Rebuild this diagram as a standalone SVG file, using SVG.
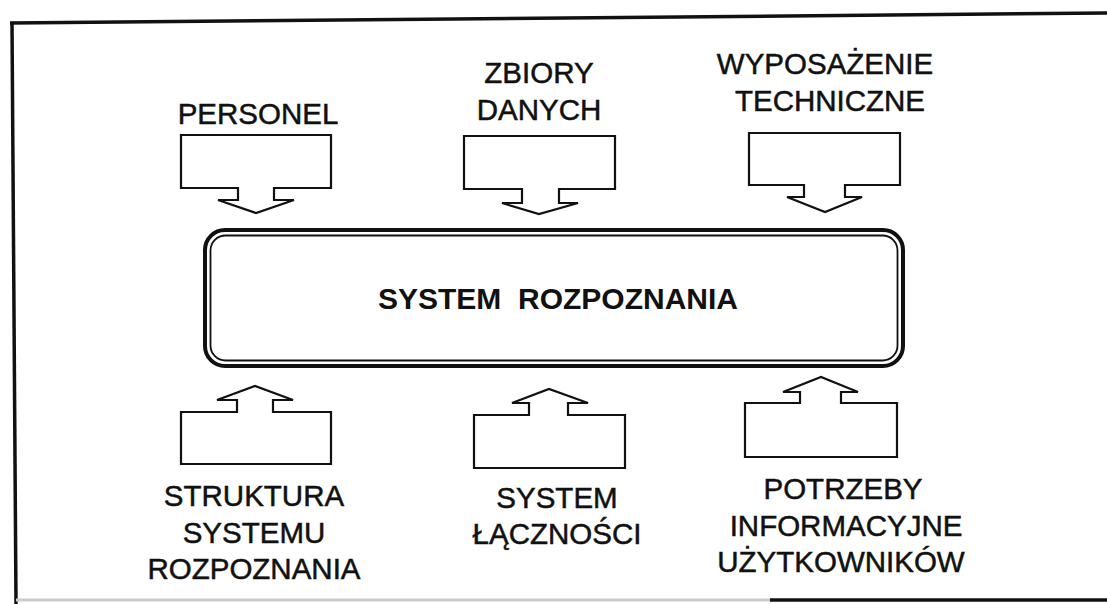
<svg xmlns="http://www.w3.org/2000/svg" width="1107" height="604" viewBox="0 0 1107 604">
<style>
.lbl{font-family:"Liberation Sans",Arial,sans-serif;font-size:29.5px;fill:#111;stroke:#111;stroke-width:0.5;text-anchor:middle}
.ttl{font-family:"Liberation Sans",Arial,sans-serif;font-size:30px;font-weight:bold;fill:#111;text-anchor:middle}
.arr{fill:#fff;stroke:#111;stroke-width:2.2;stroke-linejoin:miter}
.frame{stroke:#111;stroke-width:3.5;fill:none}
</style>
<rect width="1107" height="604" fill="#fff"/>
<g id="frame">
<line class="frame" x1="10" y1="23" x2="1107" y2="13"/>
<line class="frame" x1="12" y1="22" x2="16" y2="604"/>
<line x1="16" y1="600" x2="770" y2="600" stroke="#ccc" stroke-width="3"/>
<line class="frame" x1="770" y1="600" x2="1107" y2="600"/>
</g>
<g id="system-rozpoznania">
<rect x="205" y="230" width="698" height="136" rx="20" fill="#fff" stroke="#111" stroke-width="4"/>
<rect x="210.5" y="235.5" width="687" height="125" rx="15" fill="none" stroke="#111" stroke-width="1.8"/>
<text class="ttl" x="558" y="309" xml:space="preserve">SYSTEM  ROZPOZNANIA</text>
</g>
<g id="connectors">
<path class="arr" d="M181 135 H331 V188 H274 V200 H294 L256 213 L218 200 H238 V188 H181 Z"/>
<path class="arr" d="M464 136 H615 V189 H559 V203 H578 L539 214 L502 203 H522 V189 H464 Z"/>
<path class="arr" d="M749 133 H900 V185 H845 V197 H862 L825 212 L787 197 H804 V185 H749 Z"/>
<path class="arr" d="M181 464 H331 V412 H273 V400 H293 L255 386 L217 400 H237 V412 H181 Z"/>
<path class="arr" d="M474 468 H625 V415 H568 V403 H588 L549 389 L512 403 H529 V415 H474 Z"/>
<path class="arr" d="M745 457 H897 V403 H841 V392 H858 L821 377 L783 392 H800 V403 H745 Z"/>
</g>
<g id="personel">
<text class="lbl" x="258" y="124">PERSONEL</text>
</g>
<g id="zbiory-danych">
<text class="lbl" x="539" y="83">ZBIORY</text>
<text class="lbl" x="539" y="120">DANYCH</text>
</g>
<g id="wyposazenie">
<text class="lbl" x="825" y="74">WYPOSAŻENIE</text>
<text class="lbl" x="830" y="111">TECHNICZNE</text>
</g>
<g id="struktura">
<text class="lbl" x="254" y="506">STRUKTURA</text>
<text class="lbl" x="254" y="543">SYSTEMU</text>
<text class="lbl" x="254" y="579">ROZPOZNANIA</text>
</g>
<g id="system-lacznosci">
<text class="lbl" x="557" y="508">SYSTEM</text>
<text class="lbl" x="557" y="544">ŁĄCZNOŚCI</text>
</g>
<g id="potrzeby">
<text class="lbl" x="843" y="499">POTRZEBY</text>
<text class="lbl" x="846" y="536">INFORMACYJNE</text>
<text class="lbl" x="841" y="572">UŻYTKOWNIKÓW</text>
</g>
</svg>
